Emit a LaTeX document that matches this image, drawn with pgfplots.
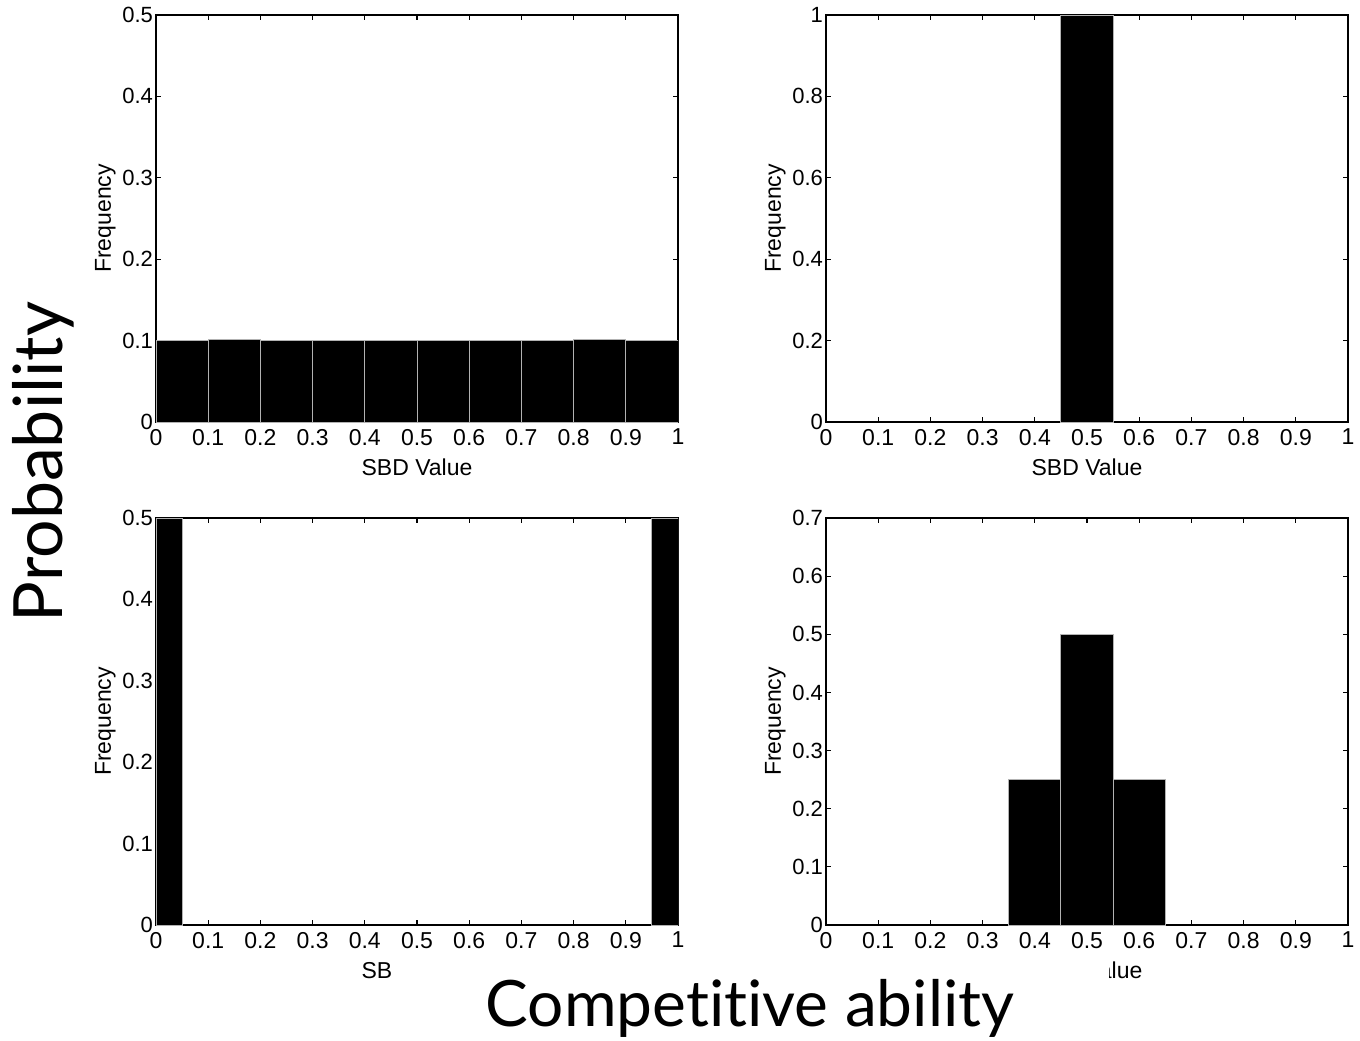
\documentclass[border=0pt]{standalone}
\usepackage{pgfplots}
\pgfplotsset{compat=1.18}
\usepackage{fontspec}
\setmainfont{Liberation Sans}
\newfontfamily\bigfont[Ligatures={NoCommon,NoContextual}]{Lato}
\begin{document}
\begin{tikzpicture}
\useasboundingbox (0pt,0pt) rectangle (680pt,-520pt);
\pgfplotsset{
  hist/.style={
    width=261pt, height=203.5pt, scale only axis, anchor=south west,
    xmin=0, xmax=1, ymin=0,
    xtick={0,0.1,0.2,0.3,0.4,0.5,0.6,0.7,0.8,0.9,1},
    tick align=inside, tick pos=both,
    major tick length=2.5pt,
    axis line style={line width=0.7pt},
    every tick/.style={black, line width=0.6pt},
    tick label style={font=\fontsize{11}{12}\selectfont},
    xticklabel style={font=\fontsize{11.5}{12}\selectfont},
    yticklabel style={xshift=2pt},
    label style={font=\fontsize{11.5}{13}\selectfont},
    /pgf/number format/assume math mode=true,
    xticklabel style={/pgf/number format/fixed, /pgf/number format/precision=1},
    yticklabel style={/pgf/number format/fixed, /pgf/number format/precision=1},
    scaled ticks=false,
    ylabel={Frequency},
    xlabel={SBD Value},
    ylabel style={yshift=-3.5pt},
    xlabel style={yshift=0pt},
  },
  bars/.style={ybar interval, fill=black, draw=gray!60, line width=0.5pt}
}
% top-left
\begin{axis}[hist, at={(78pt,-211pt)}, ymax=0.5, ytick={0,0.1,0.2,0.3,0.4,0.5}]
\addplot[bars] coordinates {(0,0.100) (0.1,0.101) (0.2,0.100) (0.3,0.100) (0.4,0.100) (0.5,0.100) (0.6,0.100) (0.7,0.100) (0.8,0.101) (0.9,0.100) (1,0.100)};
\end{axis}
% top-right
\begin{axis}[hist, at={(413pt,-211pt)}, ymax=1, ytick={0,0.2,0.4,0.6,0.8,1}]
\addplot[bars] coordinates {(0.45,1) (0.55,1)};
\end{axis}
% bottom-left
\begin{axis}[hist, at={(78pt,-462.5pt)}, ymax=0.5, ytick={0,0.1,0.2,0.3,0.4,0.5}]
\addplot[bars] coordinates {(0,0.5) (0.05,0.5)};
\addplot[bars] coordinates {(0.95,0.5) (1,0.5)};
\end{axis}
% bottom-right
\begin{axis}[hist, at={(413pt,-462.5pt)}, ymax=0.7, ytick={0,0.1,0.2,0.3,0.4,0.5,0.6,0.7}]
\addplot[bars] coordinates {(0.35,0.25) (0.45,0.5) (0.55,0.25) (0.65,0.25)};
\end{axis}
\fill[white] (196.5pt,-478pt) rectangle (554.5pt,-520pt);
\node[anchor=base, font=\bigfont\fontsize{32}{34}\selectfont, inner sep=0pt] at (375pt,-513pt) {Competitive ability};
\node[anchor=base, rotate=90, font=\bigfont\fontsize{34}{36}\selectfont, inner sep=0pt] at (31pt,-231pt) {Probability};
\end{tikzpicture}
\end{document}
